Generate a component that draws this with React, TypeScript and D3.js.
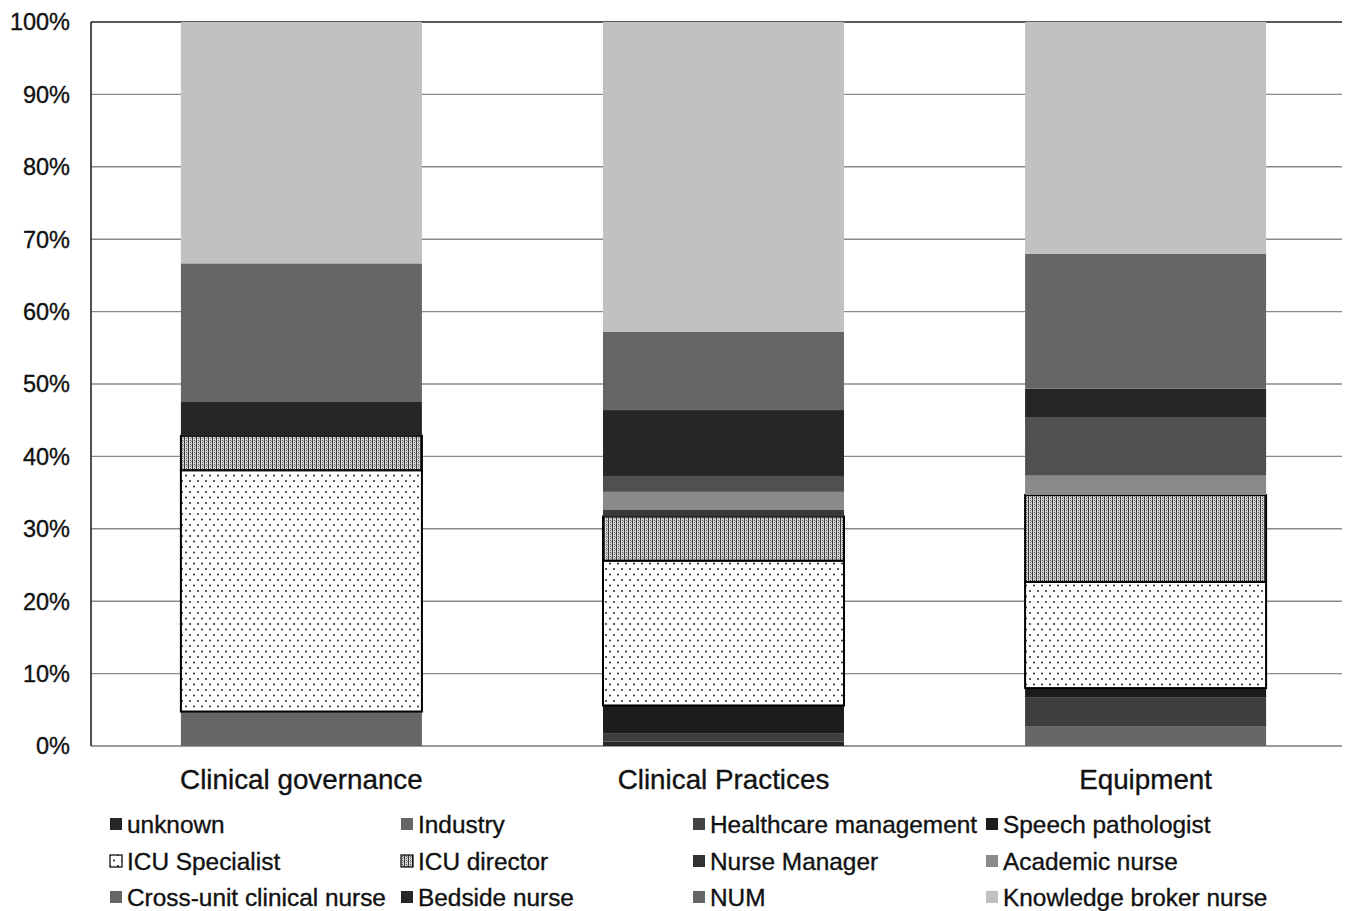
import React from "react";
import * as d3 from "d3";

const categories = ["Clinical governance", "Clinical Practices", "Equipment"];

const seriesNames = [
  "unknown",
  "Industry",
  "Healthcare management",
  "Speech pathologist",
  "ICU Specialist",
  "ICU director",
  "Nurse Manager",
  "Academic nurse",
  "Cross-unit clinical nurse",
  "Bedside nurse",
  "NUM",
  "Knowledge broker nurse",
];

// percentages per category (Clinical governance, Clinical Practices, Equipment)
const unknown = [0, 0.6, 0];
const industry = [4.76, 0, 2.67];
const healthcareManagement = [0, 1.1, 4.0];
const speechPathologist = [0, 3.9, 1.33];
const icuSpecialist = [33.33, 20.0, 14.67];
const icuDirector = [4.76, 6.1, 12.0];
const nurseManager = [0, 0.9, 0];
const academicNurse = [0, 2.5, 2.67];
const crossUnitNurse = [0, 2.2, 8.0];
const bedsideNurse = [4.76, 9.1, 4.0];
const num = [19.05, 10.8, 18.67];
const knowledgeBroker = [33.34, 42.8, 32.0];

const seriesValues = [
  unknown,
  industry,
  healthcareManagement,
  speechPathologist,
  icuSpecialist,
  icuDirector,
  nurseManager,
  academicNurse,
  crossUnitNurse,
  bedsideNurse,
  num,
  knowledgeBroker,
];

const yTicks = [0, 10, 20, 30, 40, 50, 60, 70, 80, 90, 100];

const fills: Record<string, string> = {
  unknown: "#272727",
  Industry: "#666666",
  "Healthcare management": "#3e3e3e",
  "Speech pathologist": "#1c1c1c",
  "ICU Specialist": "url(#dots)",
  "ICU director": "url(#dense)",
  "Nurse Manager": "#3a3a3a",
  "Academic nurse": "#8a8a8a",
  "Cross-unit clinical nurse": "#505050",
  "Bedside nurse": "#262626",
  NUM: "#666666",
  "Knowledge broker nurse": "#c1c1c1",
};
const legendFills: Record<string, string> = {
  ...fills,
  "Cross-unit clinical nurse": "#666666",
  "Healthcare management": "#444444",
  "Nurse Manager": "#333333",
};
const outlined = new Set(["ICU Specialist", "ICU director"]);

const W = 1346;
const H = 911;
const left = 91;
const right = 1342;
const top = 22;
const bottom = 746;

export default function App() {
  const data = categories.map((c, i) => {
    const row: Record<string, any> = { cat: c };
    seriesNames.forEach((s, k) => (row[s] = seriesValues[k][i]));
    return row;
  });
  const stack = d3.stack<any>().keys(seriesNames)(data);
  const x = d3
    .scaleBand()
    .domain(categories)
    .range([left, 1356])
    .paddingInner(0.429)
    .paddingOuter(0.213);
  const y = d3.scaleLinear().domain([0, 100]).range([bottom, top]);

  const font = "'Liberation Sans', Arial, sans-serif";
  const legendCols = [110, 401, 693, 986];
  const legendRows = [824, 861, 897];
  const txt = { fill: "#111", stroke: "#111", strokeWidth: 0.35 };

  return (
    <svg
      width={W}
      height={H}
      style={{ position: "absolute", left: 0, top: 0, background: "#fff" }}
      fontFamily={font}
    >
      <defs>
        <pattern id="dots" width={8} height={11} patternUnits="userSpaceOnUse">
          <rect width={8} height={11} fill="#fff" />
          <circle cx={2} cy={2.5} r={0.9} fill="#111" />
          <circle cx={6} cy={8} r={0.9} fill="#111" />
        </pattern>
        <pattern id="dense" width={4} height={4} patternUnits="userSpaceOnUse">
          <rect width={4} height={4} fill="#d4d4d4" />
          <rect x={0} y={0} width={1} height={4} fill="#3a3a3a" />
          <rect x={2} y={0} width={1} height={1} fill="#555" />
          <rect x={2} y={2} width={1} height={1} fill="#777" />
          <rect x={3} y={1} width={1} height={1} fill="#999" />
        </pattern>
      </defs>

      {/* gridlines */}
      {yTicks.map((t) => (
        <line
          key={t}
          x1={left}
          x2={right}
          y1={y(t)}
          y2={y(t)}
          stroke={t === 100 ? "#222" : t === 0 ? "#777" : "#8a8a8a"}
          strokeWidth={t === 100 ? 1.6 : 1.4}
        />
      ))}
      <line x1={left} x2={left} y1={top} y2={bottom} stroke="#222" strokeWidth={1.6} />

      {/* bars */}
      {stack.map((layer) =>
        layer.map((d, i) => {
          const h = y(d[0]) - y(d[1]);
          if (h <= 0) return null;
          const key = layer.key;
          return (
            <rect
              key={key + i}
              x={x(categories[i])!}
              y={y(d[1])}
              width={x.bandwidth()}
              height={h}
              fill={fills[key]}
              stroke={outlined.has(key) ? "#000" : "none"}
              strokeWidth={outlined.has(key) ? 2 : 0}
            />
          );
        })
      )}

      {/* y tick labels */}
      {yTicks.map((t) => (
        <text
          key={t}
          x={70}
          y={y(t)}
          dy="0.36em"
          textAnchor="end"
          fontSize={23.5}
          {...txt}
        >
          {t}%
        </text>
      ))}

      {/* category labels */}
      {categories.map((c) => (
        <text
          key={c}
          x={x(c)! + x.bandwidth() / 2}
          y={779}
          dy="0.36em"
          textAnchor="middle"
          fontSize={27.8}
          {...txt}
        >
          {c}
        </text>
      ))}

      {/* legend */}
      {seriesNames.map((s, k) => {
        const cx = legendCols[k % 4];
        const cy = legendRows[Math.floor(k / 4)];
        return (
          <g key={s}>
            <rect
              x={cx}
              y={cy - 6}
              width={12}
              height={12}
              fill={legendFills[s]}
              stroke={outlined.has(s) ? "#000" : "none"}
              strokeWidth={outlined.has(s) ? 1.2 : 0}
            />
            <text x={cx + 17} y={cy} dy="0.36em" fontSize={24.4} {...txt}>
              {s}
            </text>
          </g>
        );
      })}
    </svg>
  );
}
